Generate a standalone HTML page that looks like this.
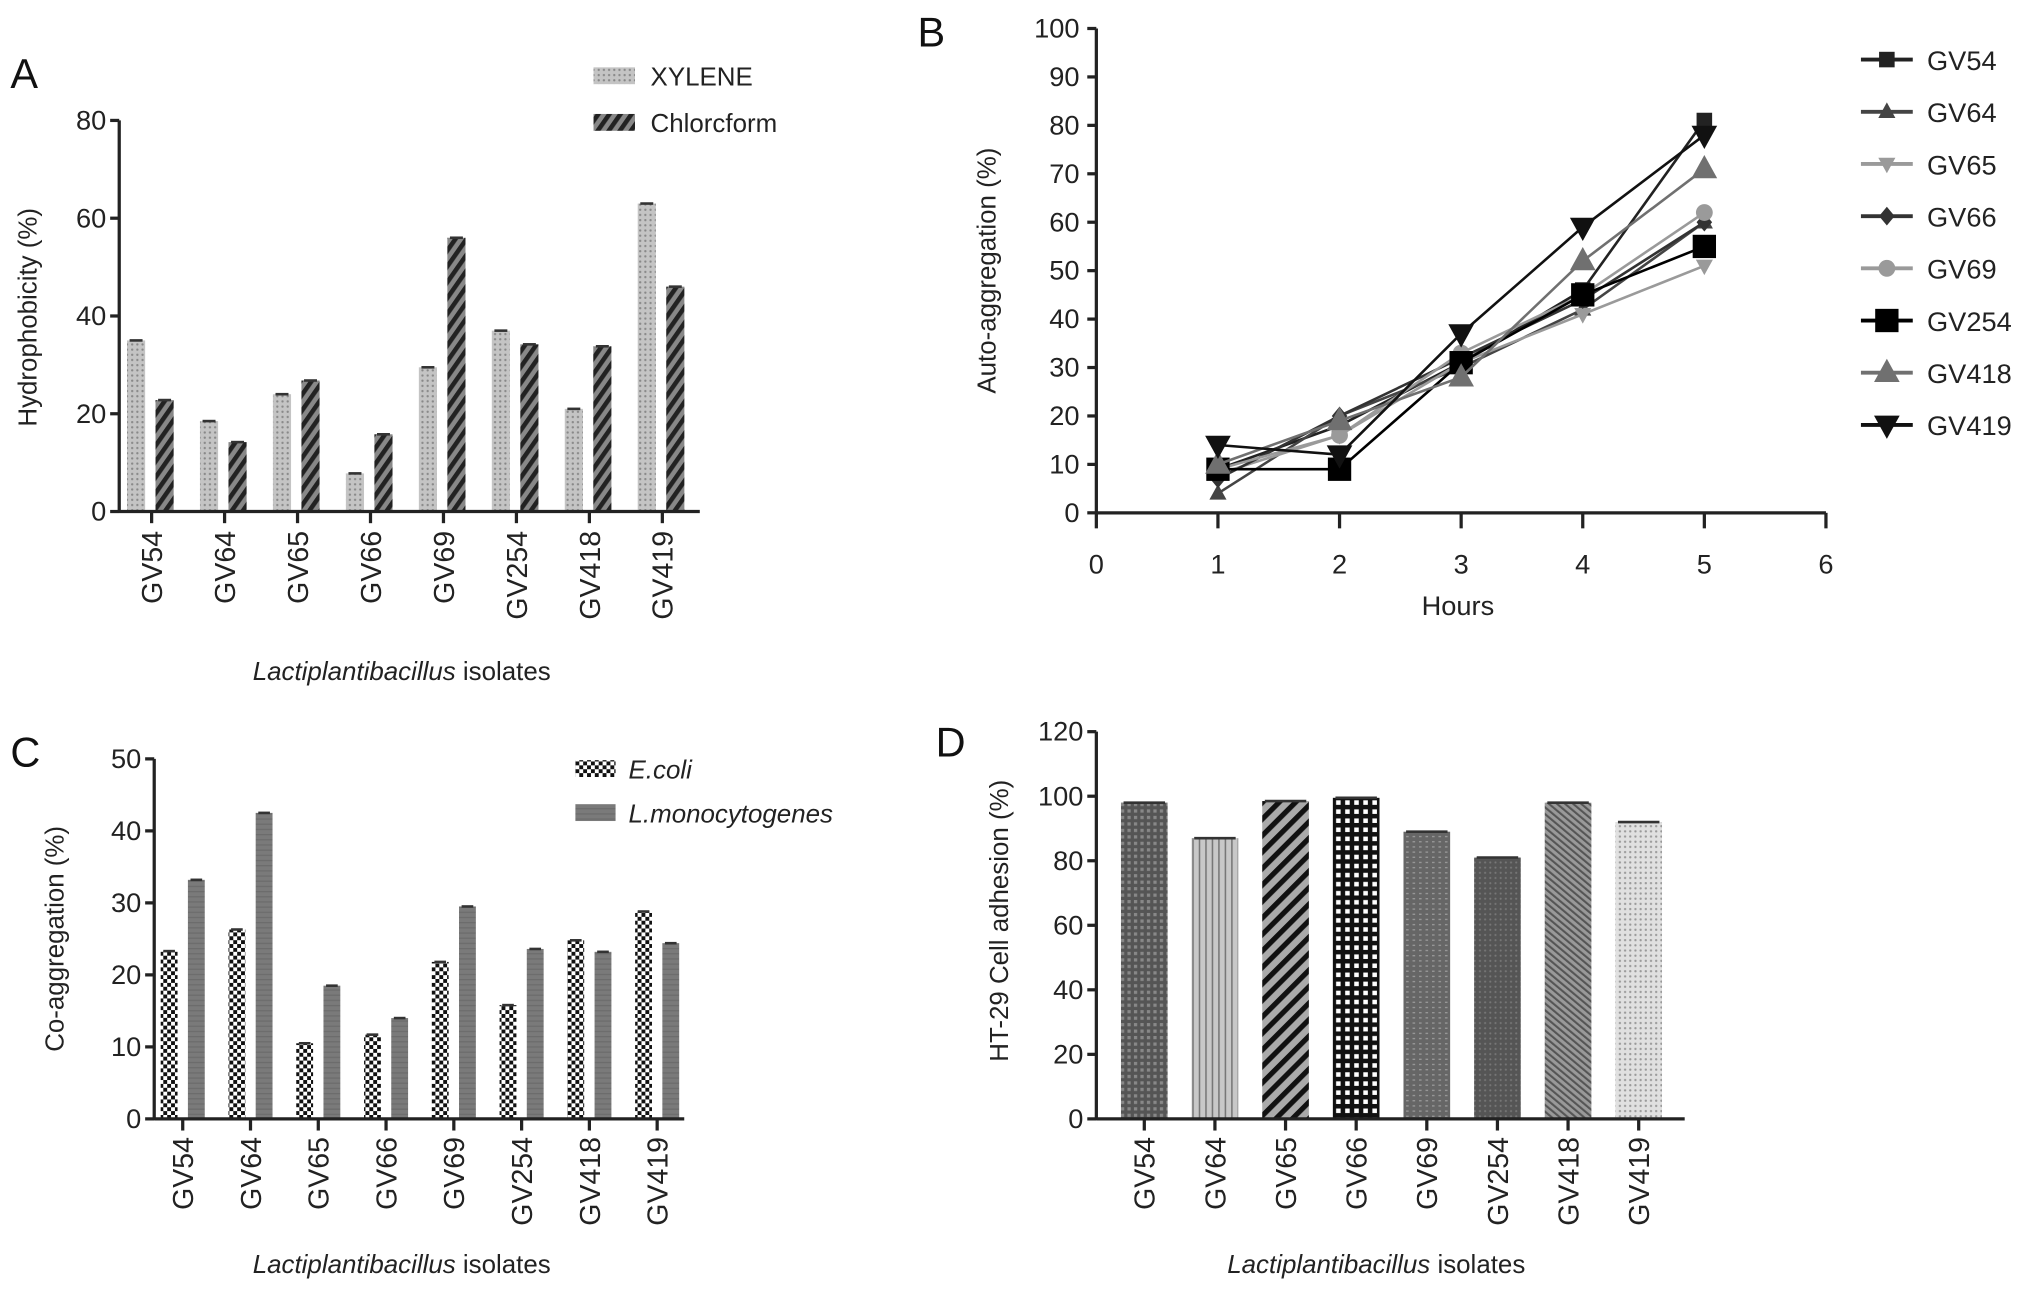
<!DOCTYPE html>
<html><head><meta charset="utf-8"><style>
html,body{margin:0;padding:0;background:#fff;}
svg{display:block;font-family:"Liberation Sans",Arial,sans-serif;}
</style></head><body>
<svg id="fig" width="2032" height="1295" viewBox="0 0 1568 1000" preserveAspectRatio="none" xmlns="http://www.w3.org/2000/svg">
<defs>
<pattern id="pDots" width="4" height="4" patternUnits="userSpaceOnUse"><rect width="4" height="4" fill="#c4c4c4"/><circle cx="2" cy="2" r="0.9" fill="#888"/></pattern>
<pattern id="pStripe" width="7" height="7" patternUnits="userSpaceOnUse" patternTransform="rotate(35)"><rect width="7" height="7" fill="#888"/><rect width="3.5" height="7" fill="#222"/></pattern>
<pattern id="pCheck" width="6" height="6" patternUnits="userSpaceOnUse"><rect width="6" height="6" fill="#fff"/><rect width="3" height="3" fill="#111"/><rect x="3" y="3" width="3" height="3" fill="#111"/></pattern>
<pattern id="pGray" width="4" height="4" patternUnits="userSpaceOnUse"><rect width="4" height="4" fill="#7a7a7a"/><rect width="4" height="1" fill="#6c6c6c"/></pattern>
<pattern id="d0" width="5" height="5" patternUnits="userSpaceOnUse"><rect width="5" height="5" fill="#555"/><rect width="2.5" height="2.5" fill="#888"/></pattern>
<pattern id="d1" width="5" height="5" patternUnits="userSpaceOnUse"><rect width="5" height="5" fill="#c8c8c8"/><rect width="1.2" height="5" fill="#777"/></pattern>
<pattern id="d2" width="9" height="9" patternUnits="userSpaceOnUse" patternTransform="rotate(45)"><rect width="9" height="9" fill="#aaa"/><rect width="4" height="9" fill="#111"/></pattern>
<pattern id="d3" width="7" height="7" patternUnits="userSpaceOnUse"><rect width="7" height="7" fill="#111"/><rect x="2" y="2" width="3.5" height="3.5" fill="#fff"/></pattern>
<pattern id="d4" width="5" height="4" patternUnits="userSpaceOnUse"><rect width="5" height="4" fill="#666"/><rect y="1.5" width="2" height="1" fill="#999"/></pattern>
<pattern id="d5" width="4" height="4" patternUnits="userSpaceOnUse"><rect width="4" height="4" fill="#555"/><circle cx="2" cy="2" r="0.8" fill="#777"/></pattern>
<pattern id="d6" width="4" height="4" patternUnits="userSpaceOnUse" patternTransform="rotate(-50)"><rect width="4" height="4" fill="#999"/><rect width="1.6" height="4" fill="#555"/></pattern>
<pattern id="d7" width="4" height="4" patternUnits="userSpaceOnUse"><rect width="4" height="4" fill="#e0e0e0"/><circle cx="2" cy="2" r="0.9" fill="#999"/></pattern>
</defs>
<g id="root"></g>
</svg>
<script>
// ---------- data ----------
const isolates = ["GV54","GV64","GV65","GV66","GV69","GV254","GV418","GV419"];
const xyleneVals = [35, 18.5, 24, 7.8, 29.5, 37, 21, 63];
const chloroVals = [22.8, 14.2, 26.8, 15.8, 56, 34.2, 33.8, 46];
const aTicks = [0, 20, 40, 60, 80];
const hours = [1, 2, 3, 4, 5];
const bTicksY = [0,10,20,30,40,50,60,70,80,90,100];
const bTicksX = [0,1,2,3,4,5,6];
const gv54 = [9, 18, 31, 46, 81];
const gv64 = [4, 20, 30, 42, 60];
const gv65 = [8, 16, 31, 41, 51];
const gv66 = [7, 20, 32, 44, 60];
const gv69 = [9, 16, 33, 45, 62];
const gv254 = [9, 9, 31, 45, 55];
const gv418 = [10, 19, 28, 52, 71];
const gv419 = [14, 12, 37, 59, 78];
const ecoliVals = [23.3, 26.3, 10.5, 11.7, 21.8, 15.8, 24.8, 28.8];
const listeriaVals = [33.2, 42.5, 18.5, 14, 29.5, 23.6, 23.2, 24.4];
const cTicks = [0,10,20,30,40,50];
const adhesionVals = [98, 87, 98.5, 99.5, 89, 81, 98, 92];
const dTicks = [0,20,40,60,80,100,120];

const NS = "http://www.w3.org/2000/svg";
const root = document.getElementById("root");
function el(tag, attrs, parent, txt){
  const e = document.createElementNS(NS, tag);
  for (const k in attrs) e.setAttribute(k, attrs[k]);
  if (txt !== undefined) e.textContent = txt;
  (parent || root).appendChild(e);
  return e;
}
function lin(d0,d1,r0,r1){ return v => r0 + (v-d0)/(d1-d0)*(r1-r0); }

function axesY(g, x, y, ticks, fs){
  el("line",{x1:x,y1:y(ticks[0])+1,x2:x,y2:y(ticks[ticks.length-1]),stroke:"#222","stroke-width":2.5},g);
  ticks.forEach(t=>{
    el("line",{x1:x-7,y1:y(t),x2:x,y2:y(t),stroke:"#222","stroke-width":2.5},g);
    const tx = el("text",{x:x-10,y:y(t)+7,"text-anchor":"end","font-size":fs,fill:"#222"},g,String(t));
    
    
  });
}
function catAxis(g, x0, x1, y0, xc, labelTop){
  el("line",{x1:x0,y1:y0,x2:x1,y2:y0,stroke:"#222","stroke-width":2.5},g);
  isolates.forEach((c,i)=>{
    el("line",{x1:xc(i),y1:y0,x2:xc(i),y2:y0+9,stroke:"#222","stroke-width":2.5},g);
    const t = el("text",{x:0,y:0,"text-anchor":"end","font-size":22,fill:"#222",transform:`translate(${xc(i)+8},${labelTop}) rotate(-90)`},g,c);
    
    
  });
}
function bar(g, x, w, y0, yv, fill, name){
  const r = el("rect",{x:x,y:yv,width:w,height:y0-yv,fill:fill},g);
  
  
  el("line",{x1:x+2,y1:yv,x2:x+w-2,y2:yv,stroke:"#333","stroke-width":2},g);
}
function panelLetter(t,x,y){
  const e = el("text",{x:x,y:y,"font-size":32,fill:"#111"},root,t);
  
  
}
function rotTitle(g, txt, x, y, name){
  const e = el("text",{x:0,y:0,"text-anchor":"middle","font-size":20,fill:"#222",transform:`translate(${x},${y}) rotate(-90)`},g,txt);
  
  
}
function isoTitle(g, cx, y){
  const e = el("text",{x:cx,y:y,"text-anchor":"middle","font-size":20,fill:"#222"},g);
  
  
  el("tspan",{"font-style":"italic"},e,"Lactiplantibacillus");
  el("tspan",{},e," isolates");
}

// ---------- Panel A ----------
panelLetter("A",8,68);
const gA = el("g",{});  
const yA = lin(0,80,395,93);
const xA = i => 117 + i*56.3;
isolates.forEach((c,i)=>{
  bar(gA, xA(i)-19, 14, 395, yA(xyleneVals[i]), "url(#pDots)", "bar-xylene-"+c.toLowerCase());
  bar(gA, xA(i)+3, 14, 395, yA(chloroVals[i]), "url(#pStripe)", "bar-chloroform-"+c.toLowerCase());
});
axesY(gA, 92, yA, aTicks, 21);
catAxis(gA, 92, 540, 395, xA, 410);
rotTitle(gA, "Hydrophobicity (%)", 28, 245, "y-axis-title");
isoTitle(gA, 310, 525);
[["XYLENE","url(#pDots)",59],["Chlorcform","url(#pStripe)",95]].forEach(([t,f,y])=>{
  const lg = el("g",{},gA);  
  el("rect",{x:458,y:y-7,width:32,height:13,fill:f},lg);
  el("text",{x:502,y:y+7,"font-size":20,fill:"#222"},lg,t);
});

// ---------- Panel B ----------
panelLetter("B",708,36);
const gB = el("g",{});  
const yB = lin(0,100,396,22);
const xB = lin(0,6,846,1409);
el("line",{x1:846,y1:396,x2:846,y2:22,stroke:"#222","stroke-width":2.5},gB);
bTicksY.forEach(t=>{
  el("line",{x1:839,y1:yB(t),x2:846,y2:yB(t),stroke:"#222","stroke-width":2.5},gB);
  const tx = el("text",{x:833,y:yB(t)+7,"text-anchor":"end","font-size":21,fill:"#222"},gB,String(t));
   
});
el("line",{x1:846,y1:396,x2:1409,y2:396,stroke:"#222","stroke-width":2.5},gB);
bTicksX.forEach(t=>{
  el("line",{x1:xB(t),y1:396,x2:xB(t),y2:408,stroke:"#222","stroke-width":2.5},gB);
  const tx = el("text",{x:xB(t),y:443,"text-anchor":"middle","font-size":21,fill:"#222"},gB,String(t));
   
});
rotTitle(gB, "Auto-aggregation (%)", 768, 209, "y-axis-title");
const ht = el("text",{x:1125,y:475,"text-anchor":"middle","font-size":21,fill:"#222"},gB,"Hours");
 

function marker(g, shape, cx, cy, s, col){
  if (shape==="sq") return el("rect",{x:cx-s,y:cy-s,width:2*s,height:2*s,fill:col},g);
  if (shape==="tri") return el("polygon",{points:`${cx},${cy-s*1.2} ${cx-s*1.1},${cy+s*0.8} ${cx+s*1.1},${cy+s*0.8}`,fill:col},g);
  if (shape==="inv") return el("polygon",{points:`${cx},${cy+s*1.2} ${cx-s*1.1},${cy-s*0.8} ${cx+s*1.1},${cy-s*0.8}`,fill:col},g);
  if (shape==="dia") return el("polygon",{points:`${cx},${cy-s*1.2} ${cx+s},${cy} ${cx},${cy+s*1.2} ${cx-s},${cy}`,fill:col},g);
  return el("circle",{cx:cx,cy:cy,r:s,fill:col},g);
}
const seriesB = [
  ["GV54",gv54,"#222","sq",6],["GV64",gv64,"#444","tri",6],["GV65",gv65,"#9a9a9a","inv",6],
  ["GV66",gv66,"#333","dia",6],["GV69",gv69,"#9a9a9a","circ",6.5],["GV254",gv254,"#000","sq",9],
  ["GV418",gv418,"#707070","tri",9],["GV419",gv419,"#111","inv",9]
];
seriesB.forEach(([name,vals,col,shape,s],k)=>{
  const sg = el("g",{},gB);
  
  
  el("polyline",{points:vals.map((v,i)=>xB(hours[i])+","+yB(v)).join(" "),fill:"none",stroke:col,"stroke-width":2},sg);
  vals.forEach((v,i)=>{
    const m = marker(sg, shape, xB(hours[i]), yB(v), s, col);
    
    
  });
  const ly = 46 + k*40.3;
  const lg = el("g",{},gB);  
  el("line",{x1:1436,y1:ly,x2:1476,y2:ly,stroke:col,"stroke-width":3},lg);
  marker(lg, shape, 1456, ly, s, col);
  el("text",{x:1487,y:ly+8,"font-size":21,fill:"#222"},lg,name);
});

// ---------- Panel C ----------
panelLetter("C",8,592);
const gC = el("g",{});  
const yC = lin(0,50,864,586);
const xC = i => 141 + i*52.3;
isolates.forEach((c,i)=>{
  bar(gC, xC(i)-17, 13, 864, yC(ecoliVals[i]), "url(#pCheck)", "bar-ecoli-"+c.toLowerCase());
  bar(gC, xC(i)+4, 13, 864, yC(listeriaVals[i]), "url(#pGray)", "bar-listeria-"+c.toLowerCase());
});
axesY(gC, 119, yC, cTicks, 21);
catAxis(gC, 119, 528, 864, xC, 878);
rotTitle(gC, "Co-aggregation (%)", 49, 725, "y-axis-title");
isoTitle(gC, 310, 983);
[["E.coli","url(#pCheck)",594],["L.monocytogenes","url(#pGray)",628]].forEach(([t,f,y])=>{
  const lg = el("g",{},gC);  
  el("rect",{x:444,y:y-7,width:31,height:13,fill:f},lg);
  el("text",{x:485,y:y+7,"font-size":20,"font-style":"italic",fill:"#222"},lg,t);
});

// ---------- Panel D ----------
panelLetter("D",722,584);
const gD = el("g",{});  
const yD = lin(0,120,864,565);
const xD = i => 883 + i*54.5;
isolates.forEach((c,i)=>{
  bar(gD, xD(i)-18, 36, 864, yD(adhesionVals[i]), "url(#d"+i+")", "bar-adhesion-"+c.toLowerCase());
});
axesY(gD, 846, yD, dTicks, 21);
catAxis(gD, 846, 1300, 864, xD, 878);
rotTitle(gD, "HT-29 Cell adhesion (%)", 778, 711, "y-axis-title");
isoTitle(gD, 1062, 983);
</script>
</body></html>
